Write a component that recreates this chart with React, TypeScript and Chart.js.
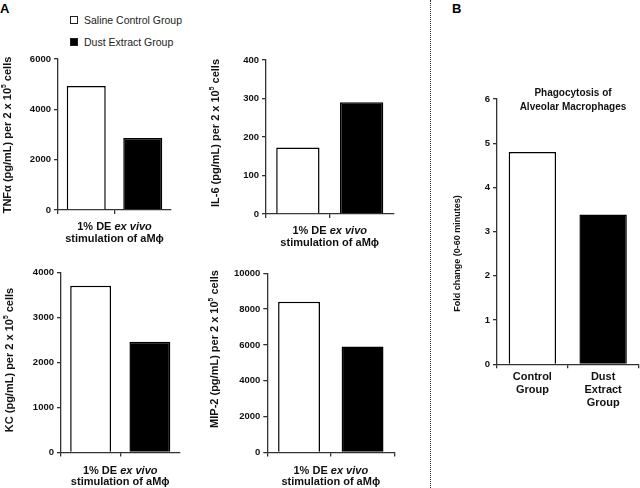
import React, { useEffect, useRef } from 'react';
import { Chart, registerables } from 'chart.js';

Chart.register(...registerables);

// ---------- data ----------
const groups = ['Saline Control Group', 'Dust Extract Group'];
const tnfValues = [4930, 2865];
const il6Values = [173, 290];
const kcValues = [3700, 2460];
const mip2Values = [8410, 5920];
const tnfTicks = [0, 2000, 4000, 6000];
const il6Ticks = [0, 100, 200, 300, 400];
const kcTicks = [0, 1000, 2000, 3000, 4000];
const mip2Ticks = [0, 2000, 4000, 6000, 8000, 10000];
const phagoCategories = [['Control', 'Group'], ['Dust', 'Extract', 'Group']];
const phagoValues = [4.8, 3.39];
const phagoTicks = [0, 1, 2, 3, 4, 5, 6];

const FONT = "Arial, 'Liberation Sans', Helvetica, sans-serif";
const AXIS = '#333333';
const BAR_FILL = ['#ffffff', '#000000'];

type Part = { t: string; italic?: boolean; sup?: boolean };
type TextItem = { parts: Part[]; x: number; y: number; size: number; rotate?: boolean };

function makeTextPlugin(items: TextItem[]) {
  return {
    id: 'panelText',
    afterDraw(chart: any) {
      const ctx = chart.ctx as CanvasRenderingContext2D;
      for (const item of items) {
        ctx.save();
        ctx.translate(item.x, item.y);
        if (item.rotate) ctx.rotate(-Math.PI / 2);
        ctx.fillStyle = '#111';
        ctx.textBaseline = 'middle';
        ctx.textAlign = 'left';
        const fontOf = (p: Part) =>
          `${p.italic ? 'italic ' : ''}bold ${p.sup ? item.size * 0.62 : item.size}px ${FONT}`;
        let total = 0;
        for (const p of item.parts) {
          ctx.font = fontOf(p);
          total += ctx.measureText(p.t).width;
        }
        let x = -total / 2;
        for (const p of item.parts) {
          ctx.font = fontOf(p);
          ctx.fillText(p.t, x, p.sup ? -item.size * 0.33 : 0);
          x += ctx.measureText(p.t).width;
        }
        ctx.restore();
      }
    },
  };
}

type PanelCfg = {
  x: number; y: number; w: number; h: number;
  area: { l: number; t: number; r: number; b: number };
  labels: any[];
  values: number[];
  ticks: number[];
  showXTicks: boolean;
  rightTick: boolean;
  texts: TextItem[];
  barPct: number;
};

function Panel({ cfg }: { cfg: PanelCfg }) {
  const ref = useRef<HTMLCanvasElement>(null);
  useEffect(() => {
    if (!ref.current) return;
    const { x, y, w, h, area } = cfg;
    const texts = cfg.texts.map((t) => ({ ...t, x: t.x - x, y: t.y - y }));
    const chart = new Chart(ref.current, {
      type: 'bar',
      data: {
        labels: cfg.labels,
        datasets: [
          {
            data: cfg.values,
            backgroundColor: BAR_FILL,
            borderColor: '#000',
            borderWidth: 1.5,
            barPercentage: cfg.barPct,
            categoryPercentage: 1,
          },
        ],
      },
      options: {
        responsive: false,
        animation: false,
        devicePixelRatio: 1,
        layout: { padding: { top: area.t - y, right: x + w - area.r, left: 0, bottom: 0 } },
        plugins: { legend: { display: false }, tooltip: { enabled: false }, title: { display: false } },
        scales: {
          x: {
            type: 'category',
            offset: true,
            grid: {
              offset: true,
              drawOnChartArea: false,
              drawTicks: true,
              tickLength: 4,
              lineWidth: 1.3,
              color: AXIS,
              tickColor: (c: any) => (c.index === undefined && !cfg.rightTick ? 'rgba(0,0,0,0)' : AXIS),
            },
            border: { display: true, color: AXIS, width: 1.3 },
            ticks: {
              display: cfg.showXTicks,
              autoSkip: false,
              maxRotation: 0,
              padding: 2,
              color: '#111',
              font: { family: FONT, size: 11, weight: 'bold', lineHeight: 1.2 },
            },
            afterFit: (s: any) => {
              s.height = y + h - area.b;
            },
          },
          y: {
            min: cfg.ticks[0],
            max: cfg.ticks[cfg.ticks.length - 1],
            afterBuildTicks: (s: any) => {
              s.ticks = cfg.ticks.map((v) => ({ value: v }));
            },
            grid: { drawOnChartArea: false, tickLength: 4, lineWidth: 1.3, color: AXIS },
            border: { display: true, color: AXIS, width: 1.3 },
            ticks: {
              padding: 3,
              color: '#111',
              font: { family: FONT, size: 9.5, weight: 'bold' },
              callback: (v: any) => String(v),
            },
            afterFit: (s: any) => {
              s.width = area.l - x;
            },
          },
        },
      } as any,
      plugins: [makeTextPlugin(texts)],
    });
    return () => chart.destroy();
  }, []);
  return (
    <canvas
      ref={ref}
      width={cfg.w}
      height={cfg.h}
      style={{ position: 'absolute', left: cfg.x, top: cfg.y, width: cfg.w, height: cfg.h }}
    />
  );
}

const stimLabel = (cx: number, y1: number, y2: number): TextItem[] => [
  { parts: [{ t: '1% DE ' }, { t: 'ex vivo', italic: true }], x: cx, y: y1, size: 11 },
  { parts: [{ t: 'stimulation of aM\u03D5' }], x: cx, y: y2, size: 11 },
];
const yTitle = (name: string, x: number, y: number): TextItem => ({
  parts: [{ t: `${name} (pg/mL) per 2 x 10` }, { t: '5', sup: true }, { t: ' cells' }],
  x, y, size: 11, rotate: true,
});

const panels: PanelCfg[] = [
  {
    x: 0, y: 40, w: 205, h: 210,
    area: { l: 58, t: 59, r: 171, b: 210 },
    labels: groups, values: tnfValues, ticks: tnfTicks,
    showXTicks: false, rightTick: false, barPct: 0.69,
    texts: [yTitle('TNF\u03B1', 7.5, 135), ...stimLabel(114.5, 227, 239)],
  },
  {
    x: 205, y: 40, w: 210, h: 210,
    area: { l: 266, t: 60, r: 393.5, b: 214 },
    labels: groups, values: il6Values, ticks: il6Ticks,
    showXTicks: false, rightTick: false, barPct: 0.68,
    texts: [yTitle('IL-6', 216, 133), ...stimLabel(329.7, 231, 243)],
  },
  {
    x: 0, y: 255, w: 205, h: 233,
    area: { l: 61, t: 272.3, r: 179.5, b: 452.5 },
    labels: groups, values: kcValues, ticks: kcTicks,
    showXTicks: false, rightTick: false, barPct: 0.69,
    texts: [yTitle('KC', 9.5, 360), ...stimLabel(120.2, 470.5, 481.5)],
  },
  {
    x: 205, y: 255, w: 210, h: 233,
    area: { l: 267.3, t: 273.3, r: 394.3, b: 452.5 },
    labels: groups, values: mip2Values, ticks: mip2Ticks,
    showXTicks: false, rightTick: true, barPct: 0.66,
    texts: [yTitle('MIP-2', 215, 349), ...stimLabel(330.8, 470.5, 481.5)],
  },
  {
    x: 434, y: 60, w: 206, h: 380,
    area: { l: 497, t: 99, r: 638.5, b: 364.3 },
    labels: phagoCategories, values: phagoValues, ticks: phagoTicks,
    showXTicks: true, rightTick: true, barPct: 0.67,
    texts: [
      { parts: [{ t: 'Fold change (0-60 minutes)' }], x: 458, y: 253.5, size: 9, rotate: true },
      { parts: [{ t: 'Phagocytosis of' }], x: 573, y: 93.3, size: 10 },
      { parts: [{ t: 'Alveolar Macrophages' }], x: 573, y: 107.3, size: 10 },
    ],
  },
];

export default function App() {
  const abs = (s: React.CSSProperties): React.CSSProperties => ({ position: 'absolute', ...s });
  return (
    <div style={abs({ left: 0, top: 0, width: 640, height: 488, background: '#fff', overflow: 'hidden', fontFamily: FONT })}>
      <div style={abs({ left: 0, top: 2, fontSize: 13, fontWeight: 'bold', lineHeight: '13px', color: '#000' })}>A</div>
      <div style={abs({ left: 452, top: 2, fontSize: 13, fontWeight: 'bold', lineHeight: '13px', color: '#000' })}>B</div>
      <div style={abs({ left: 430, top: 0, width: 0, height: 488, borderLeft: '1px dotted #333' })} />
      {groups.map((g, i) => (
        <React.Fragment key={g}>
          <div
            style={abs({
              left: 70, top: 16 + i * 22, width: 8, height: 8, boxSizing: 'border-box',
              border: '1px solid #222', background: BAR_FILL[i],
            })}
          />
          <div
            style={abs({
              left: 84, top: 20 + i * 22, transform: 'translateY(-50%)', fontSize: 10.5,
              lineHeight: '12px', color: '#222', whiteSpace: 'nowrap',
            })}
          >
            {g}
          </div>
        </React.Fragment>
      ))}
      {panels.map((p, i) => (
        <Panel key={i} cfg={p} />
      ))}
    </div>
  );
}
